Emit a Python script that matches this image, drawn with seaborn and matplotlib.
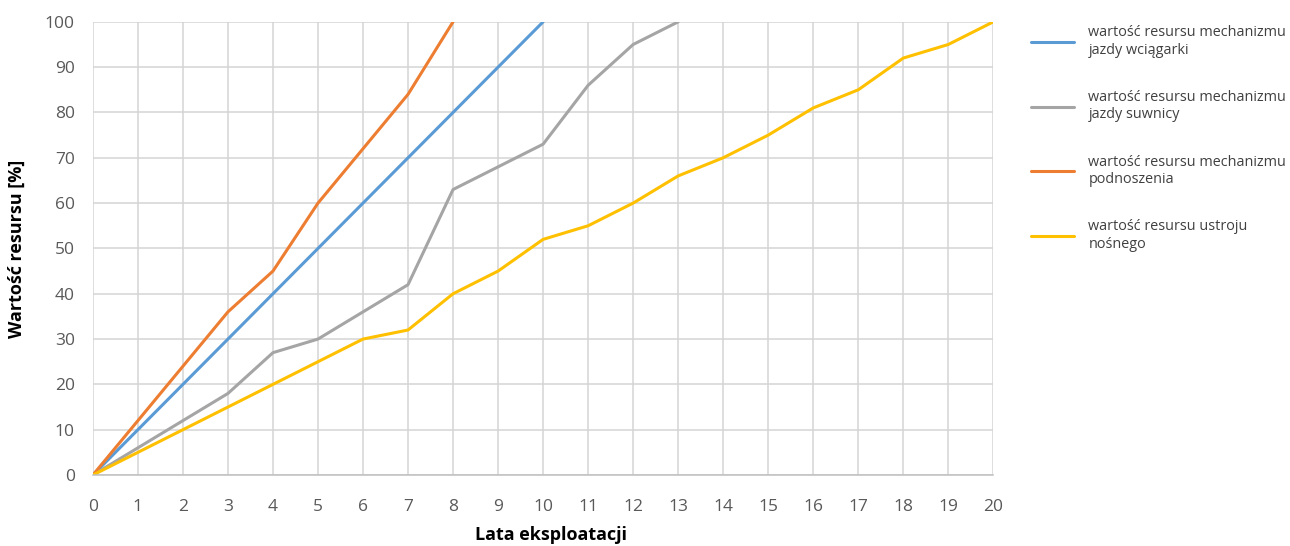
import numpy as np
import pandas as pd
import matplotlib
matplotlib.use("Agg")
import matplotlib.pyplot as plt
import seaborn as sns

years_blue = list(range(0, 11))
blue = [0, 10, 20, 30, 40, 50, 60, 70, 80, 90, 100]
years_gray = list(range(0, 14))
gray = [0, 6, 12, 18, 27, 30, 36, 42, 63, 68, 73, 86, 95, 100]
years_orange = list(range(0, 9))
orange = [0, 12, 24, 36, 45, 60, 72, 84, 100]
years_yellow = list(range(0, 21))
yellow = [0, 5, 10, 15, 20, 25, 30, 32, 40, 45, 52, 55, 60, 66, 70, 75, 81, 85, 92, 95, 100]

labels = [
    "wartość resursu mechanizmu\njazdy wciągarki",
    "wartość resursu mechanizmu\njazdy suwnicy",
    "wartość resursu mechanizmu\npodnoszenia",
    "wartość resursu ustroju\nnośnego",
]
colors = ["#5B9BD5", "#A5A5A5", "#ED7D31", "#FFC000"]
xticks = list(range(0, 21))
yticks = list(range(0, 101, 10))

frames = []
for lab, xs, ys in zip(labels, [years_blue, years_gray, years_orange, years_yellow],
                       [blue, gray, orange, yellow]):
    frames.append(pd.DataFrame({"rok": xs, "wartosc": ys, "seria": lab}))
df = pd.concat(frames, ignore_index=True)

sns.set_style("white")
plt.rcParams["font.family"] = ["Open Sans", "DejaVu Sans"]

fig = plt.figure(figsize=(12.9, 5.46), dpi=100)
ax = fig.add_axes([0.072, 0.130, 0.698, 0.830])

sns.lineplot(data=df, x="rok", y="wartosc", hue="seria", hue_order=labels,
             palette=dict(zip(labels, colors)), linewidth=2.2, ax=ax, legend=True)

ax.set_xlim(0, 20)
ax.set_ylim(0, 100)
ax.set_xticks(xticks)
ax.set_yticks(yticks)
ax.grid(True, color="#D4D4D4", linewidth=1.1)
ax.set_axisbelow(True)
for s in ["top", "right", "left"]:
    ax.spines[s].set_visible(False)
ax.spines["bottom"].set_color("#BFBFBF")
ax.spines["bottom"].set_linewidth(1.1)
ax.tick_params(axis="both", labelsize=12.5, colors="#595959", length=0)
ax.tick_params(axis="y", pad=13)
ax.tick_params(axis="x", pad=17)
ax.set_xlabel("Lata eksploatacji", fontsize=13, fontweight="bold", color="#000000")
ax.xaxis.set_label_coords(0.509, -0.112)
ax.set_ylabel("Wartość resursu [%]", fontsize=13, fontweight="bold", color="#000000")
ax.yaxis.set_label_coords(-0.074, 0.5)

handles, labs = ax.get_legend_handles_labels()
leg = ax.legend(handles, labs, loc="upper left", bbox_to_anchor=(1.035, 1.005),
                frameon=False, fontsize=10.4, labelspacing=2.25, handlelength=3.0,
                handletextpad=1.0, borderaxespad=0)
for t in leg.get_texts():
    t.set_color("#404040")

fig.savefig("out.png", dpi=100)
